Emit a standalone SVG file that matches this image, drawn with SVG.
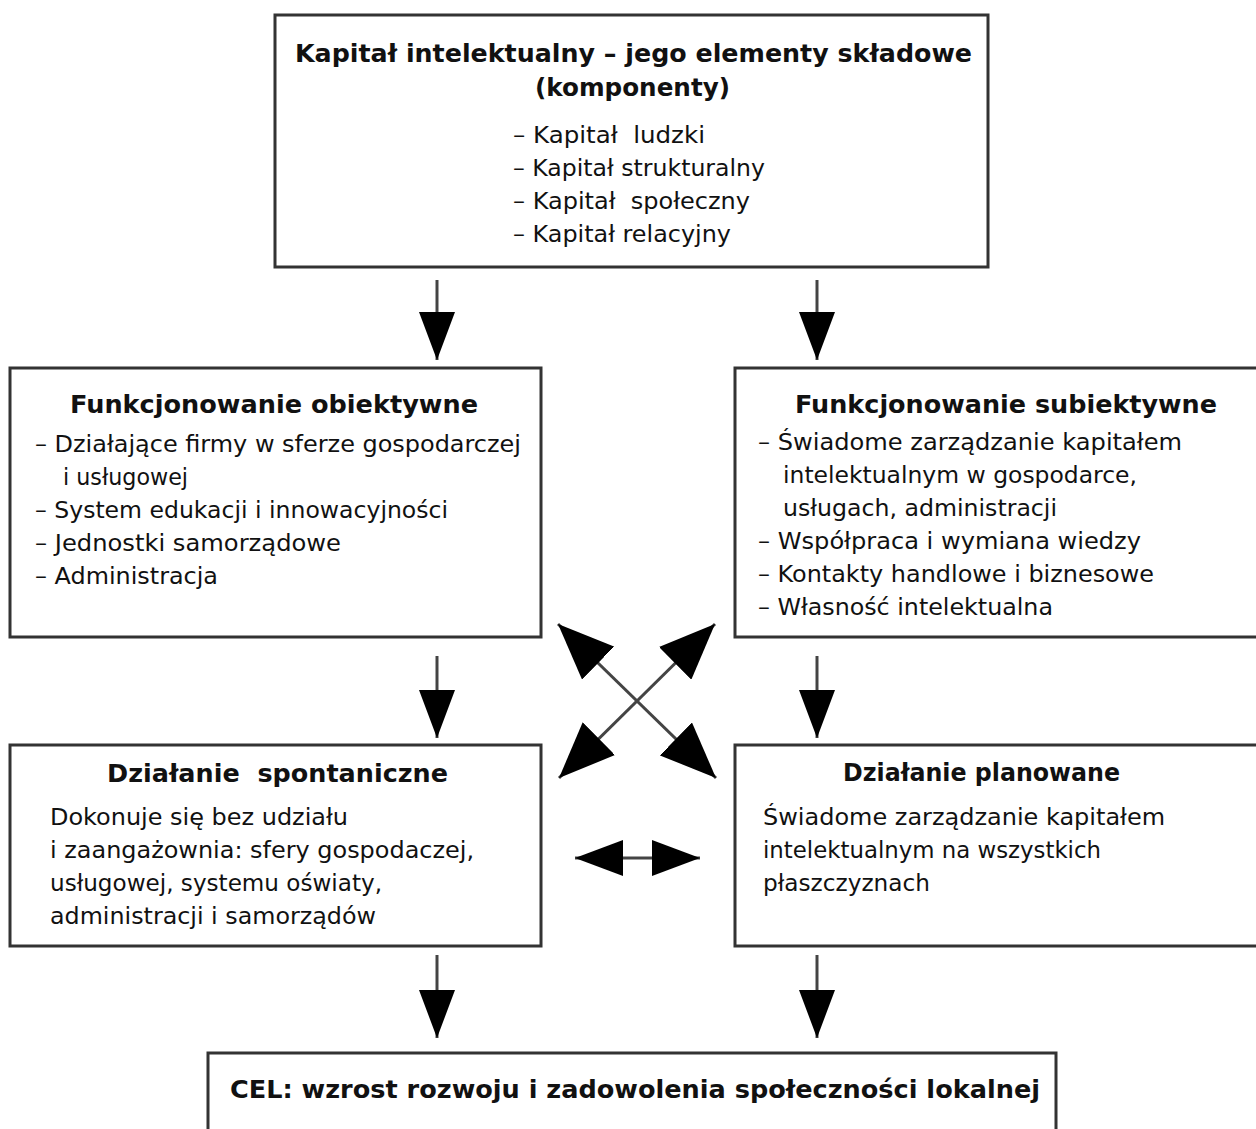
<svg xmlns="http://www.w3.org/2000/svg" width="1256" height="1129" viewBox="0 0 1256 1129">
<style>
.box{fill:#fff;stroke:#333;stroke-width:3}
text{font-family:"DejaVu Sans","Liberation Sans",sans-serif;fill:#111;white-space:pre}
.t{font-size:25px;font-weight:bold}
.b{font-size:23.5px}
.c{text-anchor:middle}
.ln{stroke:#444;stroke-width:3;fill:none}
</style>
<defs>
<marker id="ah" markerUnits="userSpaceOnUse" markerWidth="48" markerHeight="36" refX="48" refY="18" orient="auto-start-reverse" viewBox="0 0 48 36"><path d="M0,0 L48,18 L0,36 Z" fill="#000"/></marker>
<marker id="ahx" markerUnits="userSpaceOnUse" markerWidth="56" markerHeight="46" refX="56" refY="23" orient="auto-start-reverse" viewBox="0 0 56 46"><path d="M0,0 L56,23 L0,46 Z" fill="#000"/></marker>
</defs>
<rect width="1256" height="1129" fill="#fff"/>
<g id="connectors">
<line class="ln" x1="437" y1="280" x2="437" y2="360" marker-end="url(#ah)"/>
<line class="ln" x1="817" y1="280" x2="817" y2="360" marker-end="url(#ah)"/>
<line class="ln" x1="437" y1="656" x2="437" y2="738" marker-end="url(#ah)"/>
<line class="ln" x1="817" y1="656" x2="817" y2="738" marker-end="url(#ah)"/>
<line class="ln" x1="437" y1="955" x2="437" y2="1038" marker-end="url(#ah)"/>
<line class="ln" x1="817" y1="955" x2="817" y2="1038" marker-end="url(#ah)"/>
<line class="ln" x1="558" y1="624" x2="716" y2="778" marker-start="url(#ahx)" marker-end="url(#ahx)"/>
<line class="ln" x1="715" y1="624" x2="559" y2="778" marker-start="url(#ahx)" marker-end="url(#ahx)"/>
<line class="ln" x1="575" y1="858" x2="700" y2="858" marker-start="url(#ah)" marker-end="url(#ah)"/>
</g>
<g id="top">
<rect class="box" x="275" y="15" width="713" height="252"/>
<text class="t" x="295" y="62" textLength="677" lengthAdjust="spacingAndGlyphs">Kapitał intelektualny – jego elementy składowe</text>
<text class="t" x="535" y="96" textLength="195" lengthAdjust="spacingAndGlyphs">(komponenty)</text>
<text class="b" x="513" y="143" textLength="192" lengthAdjust="spacingAndGlyphs">– Kapitał  ludzki</text>
<text class="b" x="513" y="176" textLength="252" lengthAdjust="spacingAndGlyphs">– Kapitał strukturalny</text>
<text class="b" x="513" y="209" textLength="237" lengthAdjust="spacingAndGlyphs">– Kapitał  społeczny</text>
<text class="b" x="513" y="242" textLength="218" lengthAdjust="spacingAndGlyphs">– Kapitał relacyjny</text>
</g>
<g id="obiektywne">
<rect class="box" x="10" y="368" width="531" height="269"/>
<text class="t" x="70" y="413" textLength="408" lengthAdjust="spacingAndGlyphs">Funkcjonowanie obiektywne</text>
<text class="b" x="35" y="452" textLength="486" lengthAdjust="spacingAndGlyphs">– Działające firmy w sferze gospodarczej</text>
<text class="b" x="63" y="485" textLength="125" lengthAdjust="spacingAndGlyphs">i usługowej</text>
<text class="b" x="35" y="518" textLength="413" lengthAdjust="spacingAndGlyphs">– System edukacji i innowacyjności</text>
<text class="b" x="35" y="551" textLength="306" lengthAdjust="spacingAndGlyphs">– Jednostki samorządowe</text>
<text class="b" x="35" y="584" textLength="183" lengthAdjust="spacingAndGlyphs">– Administracja</text>
</g>
<g id="subiektywne">
<rect class="box" x="735" y="368" width="540" height="269"/>
<text class="t" x="795" y="413" textLength="422" lengthAdjust="spacingAndGlyphs">Funkcjonowanie subiektywne</text>
<text class="b" x="758" y="450" textLength="424" lengthAdjust="spacingAndGlyphs">– Świadome zarządzanie kapitałem</text>
<text class="b" x="783" y="483" textLength="354" lengthAdjust="spacingAndGlyphs">intelektualnym w gospodarce,</text>
<text class="b" x="783" y="516" textLength="274" lengthAdjust="spacingAndGlyphs">usługach, administracji</text>
<text class="b" x="758" y="549" textLength="383" lengthAdjust="spacingAndGlyphs">– Współpraca i wymiana wiedzy</text>
<text class="b" x="758" y="582" textLength="396" lengthAdjust="spacingAndGlyphs">– Kontakty handlowe i biznesowe</text>
<text class="b" x="758" y="615" textLength="295" lengthAdjust="spacingAndGlyphs">– Własność intelektualna</text>
</g>
<g id="spontaniczne">
<rect class="box" x="10" y="745" width="531" height="201"/>
<text class="t" x="107" y="782" textLength="341" lengthAdjust="spacingAndGlyphs">Działanie  spontaniczne</text>
<text class="b" x="50" y="825" textLength="298" lengthAdjust="spacingAndGlyphs">Dokonuje się bez udziału</text>
<text class="b" x="50" y="858" textLength="424" lengthAdjust="spacingAndGlyphs">i zaangażownia: sfery gospodaczej,</text>
<text class="b" x="50" y="891" textLength="332" lengthAdjust="spacingAndGlyphs">usługowej, systemu oświaty,</text>
<text class="b" x="50" y="924" textLength="326" lengthAdjust="spacingAndGlyphs">administracji i samorządów</text>
</g>
<g id="planowane">
<rect class="box" x="735" y="745" width="540" height="201"/>
<text class="t" x="843" y="781" textLength="277" lengthAdjust="spacingAndGlyphs">Działanie planowane</text>
<text class="b" x="763" y="825" textLength="402" lengthAdjust="spacingAndGlyphs">Świadome zarządzanie kapitałem</text>
<text class="b" x="763" y="858" textLength="338" lengthAdjust="spacingAndGlyphs">intelektualnym na wszystkich</text>
<text class="b" x="763" y="891" textLength="167" lengthAdjust="spacingAndGlyphs">płaszczyznach</text>
</g>
<g id="cel">
<rect class="box" x="208" y="1053" width="848" height="120"/>
<text class="t" x="230" y="1098" textLength="810" lengthAdjust="spacingAndGlyphs">CEL: wzrost rozwoju i zadowolenia społeczności lokalnej</text>
</g>
</svg>
